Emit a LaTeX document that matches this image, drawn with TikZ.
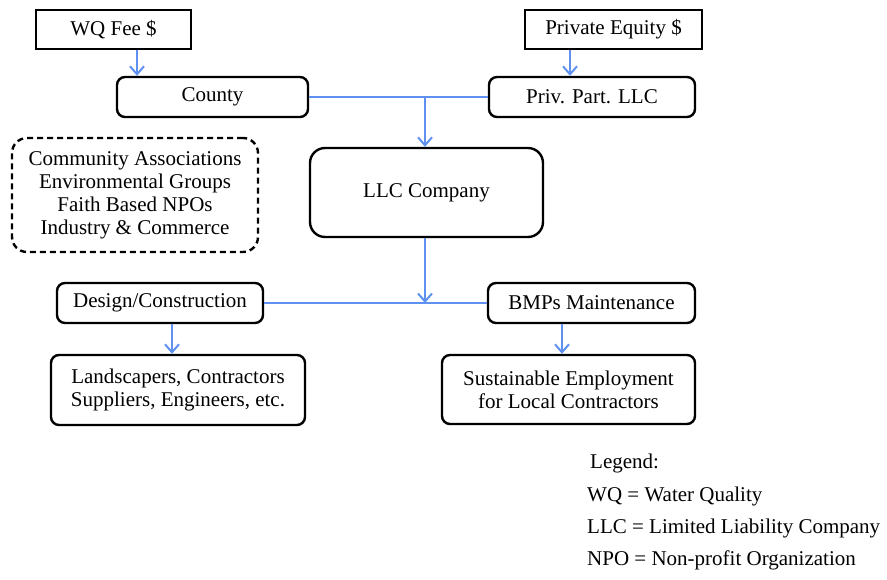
\documentclass[tikz,border=0pt]{standalone}
\usepackage{fontspec}
\setmainfont{Liberation Serif}
\usetikzlibrary{arrows.meta,calc}
\definecolor{flow}{RGB}{95,145,240}
\begin{document}
\begin{tikzpicture}[x=1pt,y=-1pt,
  every node/.style={font=\fontsize{21}{23}\selectfont, inner sep=0pt, align=center},
  sqbox/.style={draw=black, line width=2.4pt},
  rbox/.style={draw=black, line width=2.4pt, rounded corners=8pt},
  bigbox/.style={draw=black, line width=2.4pt, rounded corners=15pt},
  dbox/.style={draw=black, line width=2.4pt, dashed, dash pattern=on 6pt off 4pt, rounded corners=15pt},
  flowline/.style={draw=flow, line width=2pt},
  flowarrow/.style={flowline, -{Straight Barb[length=8pt,width=14pt,line width=2pt]}},
  legtext/.style={anchor=west}
]
\useasboundingbox (0,0) rectangle (887,580);

\node[sqbox, minimum width=155pt, minimum height=39pt] (wq) at (113.5,29.5) {WQ Fee \$};
\node[sqbox, minimum width=177pt, minimum height=39pt] (pe) at (613.5,29.5) {Private Equity \$};
\node[rbox, minimum width=191pt, minimum height=40pt] (county) at (212.5,97) {County};
\node[rbox, minimum width=206pt, minimum height=40pt] (ppl) at (592,97) {Priv. Part. LLC};
\node[dbox, minimum width=246pt, minimum height=114pt] (groups) at (135,195) {Community Associations\\Environmental Groups\\Faith Based NPOs\\Industry \& Commerce};
\node[bigbox, minimum width=233pt, minimum height=89pt] (llc) at (426.5,192.5) {LLC Company};
\node[rbox, minimum width=206pt, minimum height=40pt] (design) at (160,303) {Design/Construction};
\node[rbox, minimum width=207pt, minimum height=40pt] (bmp) at (591.5,303) {BMPs Maintenance};
\node[rbox, minimum width=254pt, minimum height=70pt] (land) at (178,390) {Landscapers, Contractors\\Suppliers, Engineers, etc.};
\node[rbox, minimum width=253pt, minimum height=69pt] (sust) at (568.5,389.5) {Sustainable Employment\\for Local Contractors};

\coordinate (j1) at (425,97);
\coordinate (j2) at (425,303);

\draw[flowarrow] ([xshift=23.5pt]wq.south) -- ([xshift=23.5pt]wq.south |- county.north);
\draw[flowarrow] ([xshift=-43.5pt]pe.south) -- ([xshift=-43.5pt]pe.south |- ppl.north);
\draw[flowline] (county.east) -- (ppl.west);
\draw[flowarrow] (j1) -- (j1 |- llc.north);
\draw[flowline] (design.east) -- (bmp.west);
\draw[flowarrow] (j2 |- llc.south) -- (j2);
\draw[flowarrow] ([xshift=12pt]design.south) -- ([xshift=12pt]design.south |- land.north);
\draw[flowarrow] ([xshift=-29.5pt]bmp.south) -- ([xshift=-29.5pt]bmp.south |- sust.north);

\node[legtext] (leg0) at (590,463) {Legend:};
\node[legtext] (leg1) at (587,496) {WQ = Water Quality};
\node[legtext] (leg2) at (587,528) {LLC = Limited Liability Company};
\node[legtext] (leg3) at (587,560) {NPO = Non-profit Organization};
\end{tikzpicture}
\end{document}
